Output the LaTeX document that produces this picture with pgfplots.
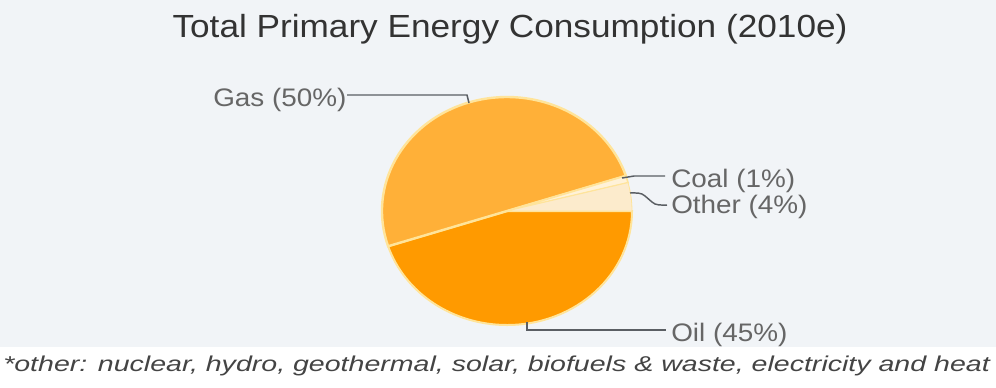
\documentclass[border=0pt]{standalone}
\usepackage{pgfplots}
\pgfplotsset{compat=1.18}
\usepackage{pgfplotstable}
\usepackage{fontspec}
\setmainfont{Liberation Sans}
\newfontfamily\wide[FakeStretch=1.1]{Liberation Sans}
\newfontfamily\wider[FakeStretch=1.33]{Liberation Sans}
\definecolor{bg}{HTML}{F1F4F7}
\definecolor{gasc}{HTML}{FFB038}
\definecolor{oilc}{HTML}{FF9A00}
\definecolor{coalc}{HTML}{FFF2D8}
\definecolor{otherc}{HTML}{FCEBCC}
\definecolor{edge}{HTML}{FFE49A}
\definecolor{lead}{HTML}{5A5E63}
\definecolor{lbl}{HTML}{666666}
\definecolor{ttl}{HTML}{333333}
\definecolor{foot}{HTML}{444444}

\pgfplotstableread{
name pct
Oil 45
Gas 50
Coal 1
Other 4
}\pietable
\pgfplotstablegetelem{0}{pct}\of\pietable \let\pOil\pgfplotsretval
\pgfplotstablegetelem{1}{pct}\of\pietable \let\pGas\pgfplotsretval
\pgfplotstablegetelem{2}{pct}\of\pietable \let\pCoal\pgfplotsretval
\pgfplotstablegetelem{3}{pct}\of\pietable \let\pOther\pgfplotsretval
\pgfmathsetmacro\aA{0}
\pgfmathsetmacro\aB{\aA-3.6*\pOil}
\pgfmathsetmacro\aC{\aB-3.6*\pGas}
\pgfmathsetmacro\aD{\aC-3.6*\pCoal}
\pgfmathsetmacro\aE{\aD-3.6*\pOther}
\newcommand\slice[3]{%
  \fill[#3] (axis cs:507,211) -- ++({93.75pt*cos(#1)},{85.5pt*sin(#1)})
    arc[start angle=#1, end angle=#2, x radius=93.75pt, y radius=85.5pt] -- cycle;}

\begin{document}
\begin{tikzpicture}
\begin{axis}[x=0.75pt, y=0.75pt, y dir=reverse,
  xmin=0, xmax=996, ymin=0, ymax=387,
  hide axis, clip=false]
\fill[white] (axis cs:0,0) rectangle (axis cs:996,387);
\fill[bg] (axis cs:0,0) rectangle (axis cs:996,347);
% slices
\slice{\aA}{\aB}{oilc, draw=edge, line width=1.5pt}
\slice{\aB}{\aC}{gasc, draw=edge, line width=1.8pt}
\slice{\aC}{\aD}{coalc, draw=edge, line width=1.2pt}
\slice{\aD}{\aE}{otherc, draw=edge, line width=0.6pt}
% leader lines
\addplot[lead, line width=1.1pt] coordinates {(347,95) (467,95) (469,103)};
\addplot[lead, line width=1.1pt] coordinates {(622,178) (634,176) (665,176)};
\addplot[lead, line width=1.1pt, smooth] coordinates {(630,193) (642,194) (655,204) (667,205)};
\addplot[lead, line width=1.1pt] coordinates {(527,322) (527,330) (666,330)};
% labels
\node[anchor=base, font=\wide\fontsize{24}{28}\selectfont, text=ttl] at (axis cs:510,37) {Total Primary Energy Consumption (2010e)};
\node[anchor=base west, font=\wide\fontsize{19}{22}\selectfont, text=lbl, inner sep=0pt] at (axis cs:213,106) {Gas (50\%)};
\node[anchor=base west, font=\wide\fontsize{19}{22}\selectfont, text=lbl, inner sep=0pt] at (axis cs:671,187) {Coal (1\%)};
\node[anchor=base west, font=\wide\fontsize{19}{22}\selectfont, text=lbl, inner sep=0pt] at (axis cs:671,213) {Other (4\%)};
\node[anchor=base west, font=\wide\fontsize{19}{22}\selectfont, text=lbl, inner sep=0pt] at (axis cs:671,341) {Oil (45\%)};
\node[anchor=base west, inner sep=0pt, font=\wider\itshape\fontsize{16.1}{20}\selectfont, text=foot] at (axis cs:3,371) {*other: nuclear, hydro, geothermal, solar, biofuels \& waste, electricity and heat};
\end{axis}
\end{tikzpicture}
\end{document}
